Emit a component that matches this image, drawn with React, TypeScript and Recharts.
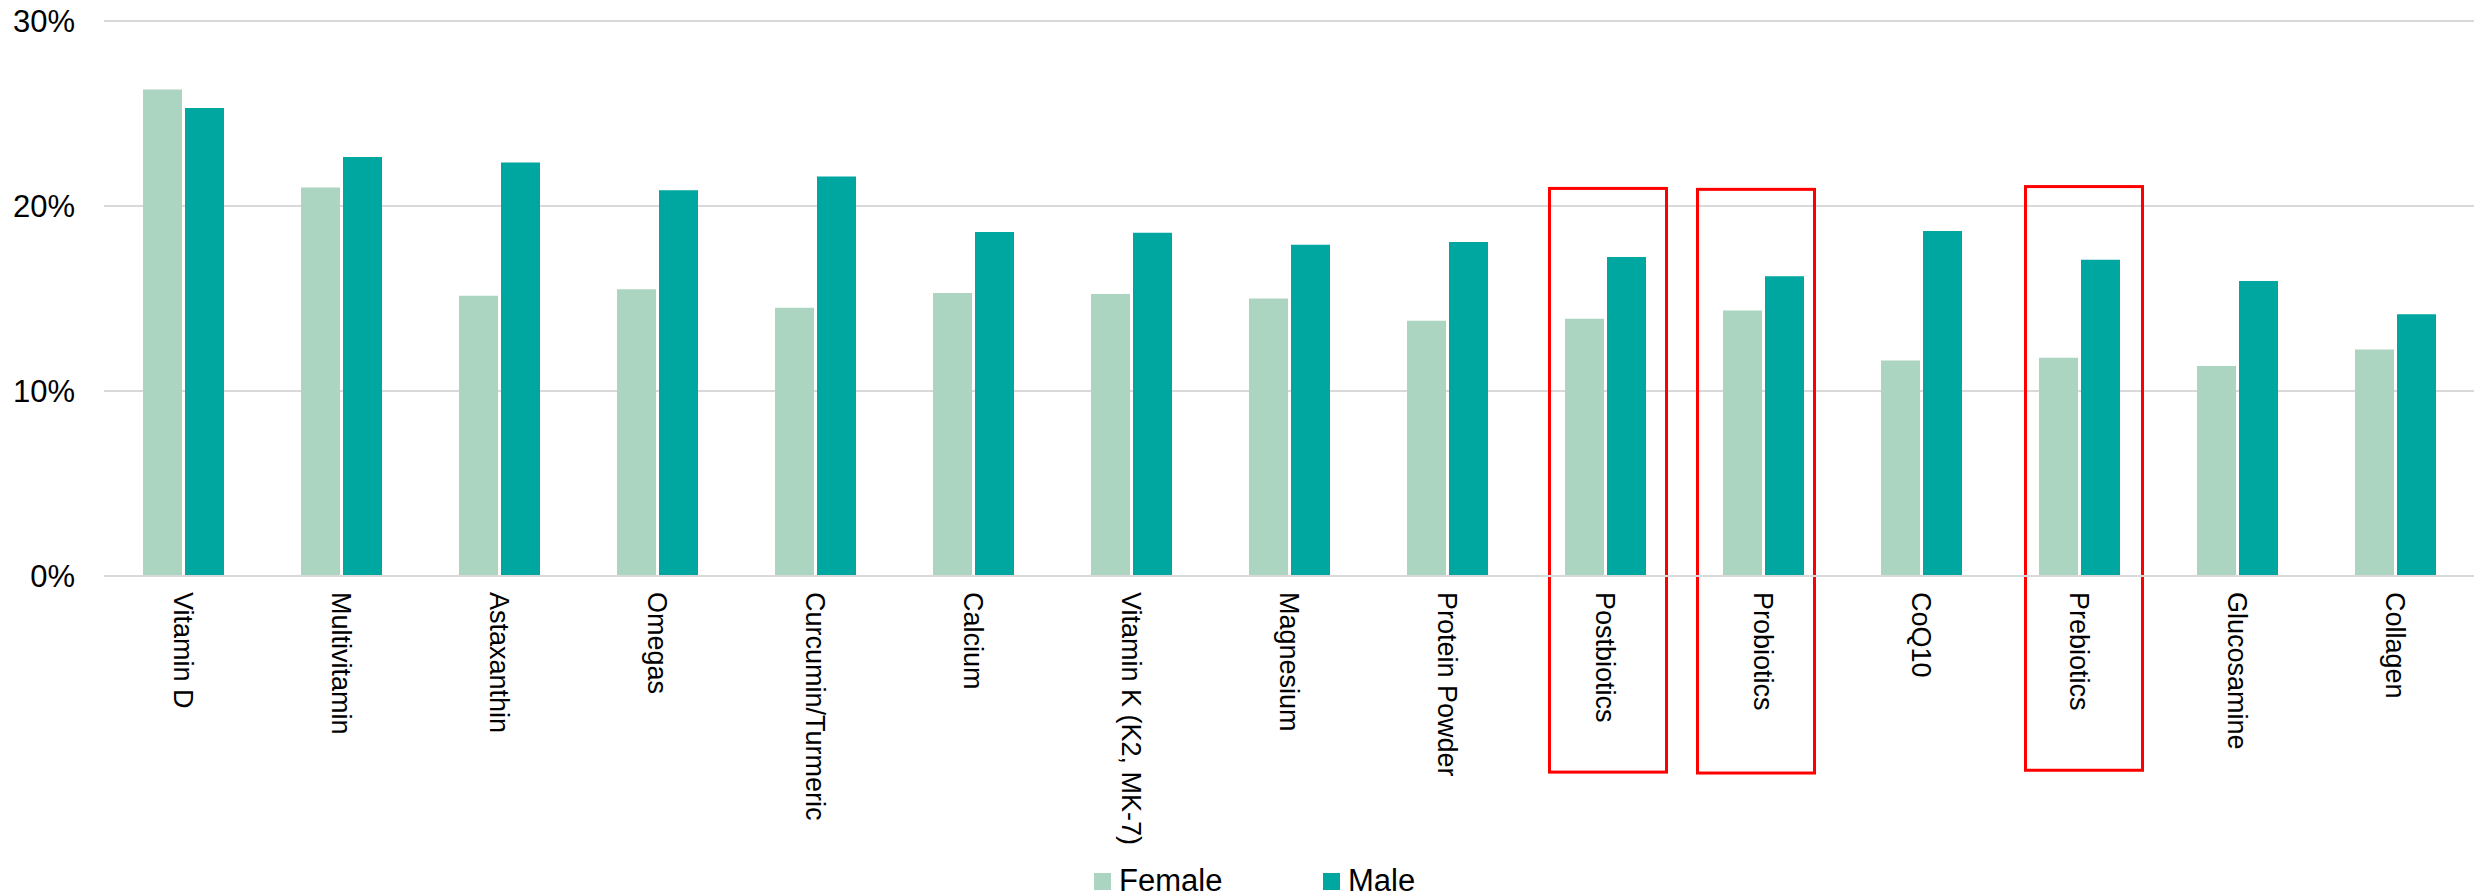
import React from 'react';
import { BarChart, Bar, XAxis, YAxis, CartesianGrid, ReferenceArea } from 'recharts';

// Share of respondents taking each supplement, by gender (%)
const categories = [
  'Vitamin D',
  'Multivitamin',
  'Astaxanthin',
  'Omegas',
  'Curcumin/Turmeric',
  'Calcium',
  'Vitamin K (K2, MK-7)',
  'Magnesium',
  'Protein Powder',
  'Postbiotics',
  'Probiotics',
  'CoQ10',
  'Prebiotics',
  'Glucosamine',
  'Collagen',
];
const female = [26.3, 21.0, 15.15, 15.5, 14.5, 15.3, 15.25, 15.0, 13.8, 13.9, 14.35, 11.65, 11.8, 11.35, 12.25];
const male = [25.3, 22.65, 22.35, 20.85, 21.6, 18.6, 18.55, 17.9, 18.05, 17.25, 16.2, 18.65, 17.1, 15.95, 14.15];

const seriesNames = ['Female', 'Male'];
const seriesKeys = ['female', 'male'];
const seriesColors = ['#ABD4C1', '#00A6A0'];

const yTicks = [0, 10, 20, 30];

// Highlighted categories: outlined from below the axis up past the bars (value range in %)
const highlightCats = ['Postbiotics', 'Probiotics', 'Prebiotics'];
const highlightTop = [20.95, 20.9, 21.05];
const highlightBottom = [-10.6, -10.65, -10.5];
// hand-placed nudge of each outline, in px
const highlightShift = [3, -7, 5];

const rows = categories.map((name, i) => ({ name, female: female[i], male: male[i] }));

const FONT = "'Liberation Sans', Arial, Helvetica, sans-serif";
const W = 2476;
const H = 895;

const CategoryTick = (props: any) => {
  const { x, y, payload } = props;
  return (
    <text
      x={x}
      y={y}
      transform={`rotate(90 ${x} ${y})`}
      textAnchor="start"
      dy="0.35em"
      fontSize={27}
      fontFamily={FONT}
      fill="#000"
    >
      {payload.value}
    </text>
  );
};

const HighlightBox = (props: any) => {
  const { x, y, width, height, shift } = props;
  const inset = 20.5;
  return (
    <rect
      x={x + inset + shift}
      y={y}
      width={width - inset * 2}
      height={height}
      fill="none"
      stroke="#FF0000"
      strokeWidth={3}
    />
  );
};

export default function App() {
  return (
    <div style={{ position: 'absolute', left: 0, top: 0, width: W, height: H, background: '#fff' }}>
      <BarChart
        width={W}
        height={H}
        data={rows}
        margin={{ top: 21, right: 2, left: 0, bottom: 0 }}
        barGap={3}
        barSize={39}
      >
        <CartesianGrid vertical={false} stroke="#D9D9D9" strokeWidth={2} />
        <XAxis
          dataKey="name"
          interval={0}
          height={319}
          tickLine={false}
          tickSize={0}
          tickMargin={16}
          axisLine={{ stroke: '#D9D9D9', strokeWidth: 2 }}
          tick={(p: any) => <CategoryTick {...p} />}
        />
        <YAxis
          width={104}
          domain={[0, 30]}
          ticks={yTicks}
          allowDataOverflow
          tickFormatter={(v: number) => `${v}%`}
          axisLine={false}
          tickLine={false}
          tickSize={0}
          tickMargin={29}
          tick={{ fill: '#000', fontSize: 31, fontFamily: FONT }}
        />
        {seriesKeys.map((k, i) => (
          <Bar key={k} dataKey={k} name={seriesNames[i]} fill={seriesColors[i]} isAnimationActive={false} />
        ))}
        {highlightCats.map((c, i) => (
          <ReferenceArea
            key={c}
            x1={c}
            x2={c}
            y1={highlightBottom[i]}
            y2={highlightTop[i]}
            ifOverflow="visible"
            shape={(p: any) => <HighlightBox {...p} shift={highlightShift[i]} />}
          />
        ))}
      </BarChart>
      <div style={{ position: 'absolute', left: 1094, top: 862 }}>
        <svg width={340} height={40}>
          {seriesNames.map((n, i) => (
            <g key={n} transform={`translate(${i * 229},0)`}>
              <rect x={0} y={11} width={17} height={17} fill={seriesColors[i]} />
              <text x={25} y={29} fontSize={31} fontFamily={FONT} fill="#000">
                {n}
              </text>
            </g>
          ))}
        </svg>
      </div>
    </div>
  );
}
